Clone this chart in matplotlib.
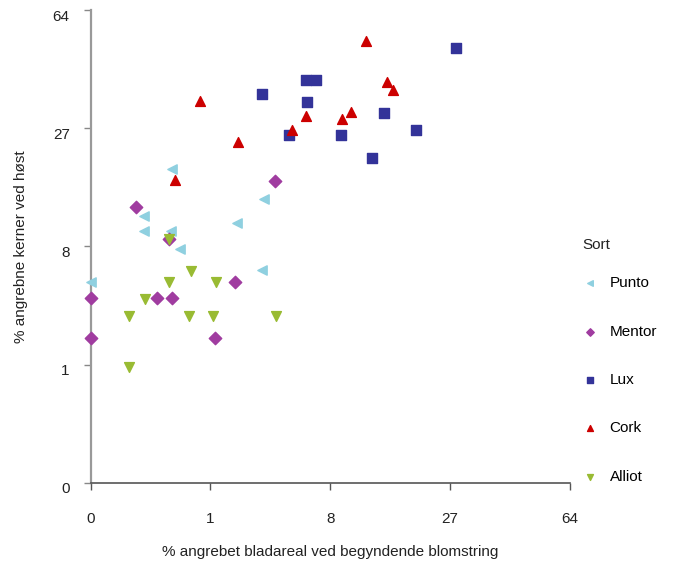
import numpy as np
import matplotlib
matplotlib.use('Agg')
import matplotlib.pyplot as plt
import matplotlib.transforms as mtransforms

plt.rcParams['font.family'] = ['Liberation Sans', 'DejaVu Sans']

# values (cube-root axes)
punto_x = [0, 0.31, 0.087, 0.087, 0.30, 0.41, 1.82, 3.03, 2.93]
punto_y = [4.9, 18.7, 11.5, 9.66, 9.66, 7.74, 10.6, 13.8, 5.84]

mentor_x = [0.053, 3.65, 0, 0, 0.168, 0.311, 1.75, 1.12, 0.278]
mentor_y = [12.7, 16.6, 3.82, 1.84, 3.82, 3.82, 4.9, 1.84, 8.77]

lux_x = [2.93, 5.82, 6.67, 5.91, 4.55, 9.16, 14.7, 20.1, 12.9, 28.3]
lux_y = [35.6, 39.5, 39.5, 33.4, 25.5, 25.5, 30.6, 26.6, 20.7, 49.7]

cork_x = [12.2, 15.2, 16.1, 10.3, 9.26, 5.82, 4.76, 1.86, 0.76, 0.35]
cork_y = [52.2, 38.9, 36.7, 30.8, 29.1, 29.9, 26.6, 23.9, 33.7, 16.8]

alliot_x = [0.586, 0.278, 1.14, 0.092, 0.032, 0.551, 1.064, 3.71, 0.032, 0.278]
alliot_y = [5.76, 4.9, 4.9, 3.76, 2.81, 2.81, 2.81, 2.81, 0.943, 8.77]

ticks = [0, 1, 8, 27, 64]

fig = plt.figure(figsize=(6.81, 5.66), dpi=100)
ax = fig.add_axes([0.133, 0.147, 0.704, 0.835])

ax.set_xscale('function', functions=(np.cbrt, lambda v: v ** 3))
ax.set_yscale('function', functions=(np.cbrt, lambda v: v ** 3))

ax.scatter(punto_x, punto_y, marker='<', s=45, color='#8fd0e0', label='Punto', zorder=3, clip_on=False)
ax.scatter(mentor_x, mentor_y, marker='D', s=40, color='#a03ca0', label='Mentor', zorder=3, clip_on=False)
ax.scatter(lux_x, lux_y, marker='s', s=42, color='#333399', label='Lux', zorder=3, clip_on=False)
ax.scatter(cork_x, cork_y, marker='^', s=50, color='#cc0000', label='Cork', zorder=3, clip_on=False)
ax.scatter(alliot_x, alliot_y, marker='v', s=50, color='#99bb33', label='Alliot', zorder=4, clip_on=False)

ax.set_xlim(0, 64)
ax.set_ylim(0, 64)
ax.set_xticks(ticks)
ax.set_xticklabels([str(t) for t in ticks])
ax.set_yticks(ticks)
ax.set_yticklabels([str(t) for t in ticks])
ax.minorticks_off()

ax.spines['top'].set_visible(False)
ax.spines['right'].set_visible(False)
ax.spines['left'].set_color('#999999')
ax.spines['left'].set_linewidth(1.6)
ax.spines['bottom'].set_color('#555555')
ax.spines['bottom'].set_linewidth(1.2)
ax.tick_params(axis='both', colors='#555555', labelcolor='#222222', labelsize=11, length=5, width=1)
ax.tick_params(axis='x', pad=16)
ax.tick_params(axis='y', pad=10, colors='#888888', labelcolor='#222222')

# y labels sit a bit below their ticks in the original
shift = mtransforms.ScaledTranslation(0, -5 / 100, fig.dpi_scale_trans)
for lab in ax.get_yticklabels():
    lab.set_transform(lab.get_transform() + shift)

ax.set_xlabel('% angrebet bladareal ved begyndende blomstring', fontsize=11, color='#222222', labelpad=14)
ax.set_ylabel('% angrebne kerner ved høst', fontsize=11, color='#222222', labelpad=18)

fig.text(0.855, 0.568, 'Sort', fontsize=11, color='#222222', va='center')
leg = fig.legend(loc='upper left', bbox_to_anchor=(0.83, 0.536), frameon=False,
                 fontsize=11, markerscale=0.6,
                 labelspacing=2.25, handletextpad=0.5, handlelength=1.5)

plt.savefig('out.png', dpi=100)
